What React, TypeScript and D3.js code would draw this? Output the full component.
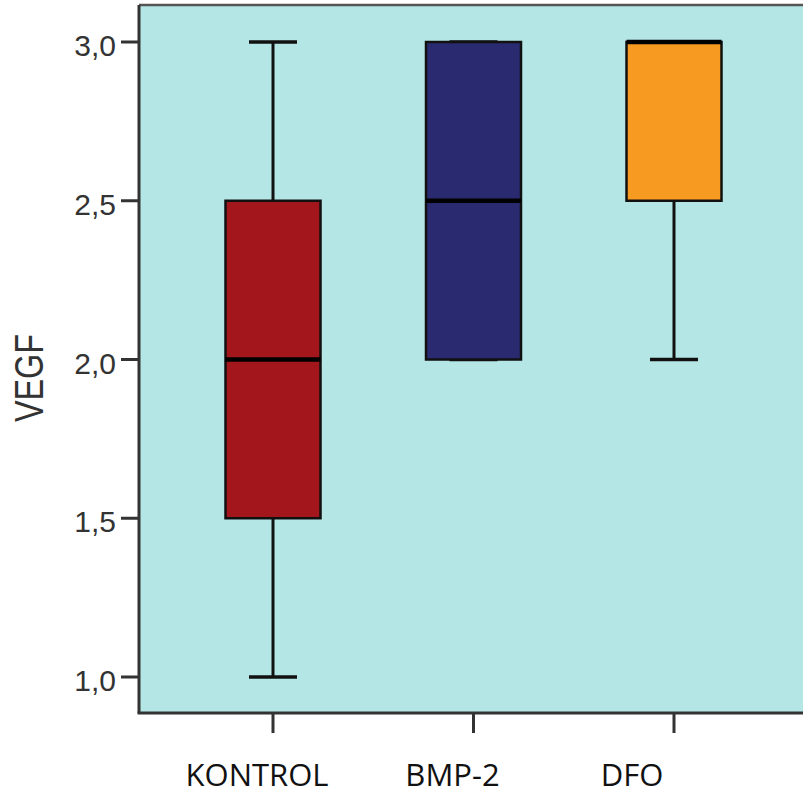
import React from "react";
import * as d3 from "d3";

const categories = ["KONTROL", "BMP-2", "DFO"];
const mins = [1.0, 2.0, 2.0];
const q1s = [1.5, 2.0, 2.5];
const medians = [2.0, 2.5, 3.0];
const q3s = [2.5, 3.0, 3.0];
const maxs = [3.0, 3.0, 3.0];
const colors = ["#a3161b", "#2a2a70", "#f79a21"];
const yTicks = [1.0, 1.5, 2.0, 2.5, 3.0];
const yTickLabels = ["1,0", "1,5", "2,0", "2,5", "3,0"];
const yLabel = "VEGF";

const W = 803;
const H = 798;
const left = 139;
const top = 5;
const bottom = 713;
const labelShift = [-16, -21, -42];

export default function App() {
  const y = d3.scaleLinear().domain([1, 3]).range([677, 42]);
  const x = d3.scalePoint<string>().domain(categories).range([273, 674]);
  const boxW = 95;
  const capW = 48;

  return (
    <svg width={W} height={H} style={{ position: "absolute", left: 0, top: 0 }}>
      <rect x={0} y={0} width={W} height={H} fill="#ffffff" />
      <rect x={left} y={top} width={W - left + 10} height={bottom - top} fill="#b4e6e6" />
      {/* frame */}
      <line x1={left} x2={W + 5} y1={top} y2={top} stroke="#555" strokeWidth={2.5} />
      <line x1={left} x2={left} y1={top} y2={bottom} stroke="#333" strokeWidth={3} />
      <line x1={left - 1.5} x2={W + 5} y1={bottom} y2={bottom} stroke="#333" strokeWidth={3} />
      {/* y ticks */}
      {yTicks.map((t, i) => (
        <g key={"yt" + i}>
          <line x1={121} x2={left} y1={y(t)} y2={y(t)} stroke="#333" strokeWidth={3} />
          <text
            x={116}
            y={y(t) + 14}
            textAnchor="end"
            fontFamily="Liberation Sans, Arial, sans-serif"
            fontSize={30}
            fill="#333"
          >
            {yTickLabels[i]}
          </text>
        </g>
      ))}
      <text
        transform={`translate(43,378) rotate(-90)`}
        textAnchor="middle"
        fontFamily="Liberation Sans, Arial, sans-serif"
        fontSize={40}
        textLength={88}
        lengthAdjust="spacingAndGlyphs"
        fill="#333"
      >
        {yLabel}
      </text>
      {/* x ticks and labels */}
      {categories.map((c, i) => (
        <g key={"xt" + i}>
          <line x1={x(c)!} x2={x(c)!} y1={bottom} y2={733} stroke="#333" strokeWidth={3} />
          <text
            x={x(c)! + labelShift[i]}
            y={786}
            textAnchor="middle"
            fontFamily="Open Sans, sans-serif"
            fontSize={31}
            fill="#111"
          >
            {c}
          </text>
        </g>
      ))}
      {/* boxes */}
      {categories.map((c, i) => {
        const cx = x(c)!;
        return (
          <g key={"b" + i}>
            <line x1={cx} x2={cx} y1={y(maxs[i])} y2={y(q3s[i])} stroke="#111" strokeWidth={3} />
            <line x1={cx} x2={cx} y1={y(q1s[i])} y2={y(mins[i])} stroke="#111" strokeWidth={3} />
            <line x1={cx - capW / 2} x2={cx + capW / 2} y1={y(maxs[i])} y2={y(maxs[i])} stroke="#111" strokeWidth={3.5} />
            <line x1={cx - capW / 2} x2={cx + capW / 2} y1={y(mins[i])} y2={y(mins[i])} stroke="#111" strokeWidth={3.5} />
            <rect
              x={cx - boxW / 2}
              y={y(q3s[i])}
              width={boxW}
              height={y(q1s[i]) - y(q3s[i])}
              fill={colors[i]}
              stroke="#111"
              strokeWidth={2.5}
            />
            <line x1={cx - boxW / 2} x2={cx + boxW / 2} y1={y(medians[i])} y2={y(medians[i])} stroke="#000" strokeWidth={4.5} />
          </g>
        );
      })}
    </svg>
  );
}
